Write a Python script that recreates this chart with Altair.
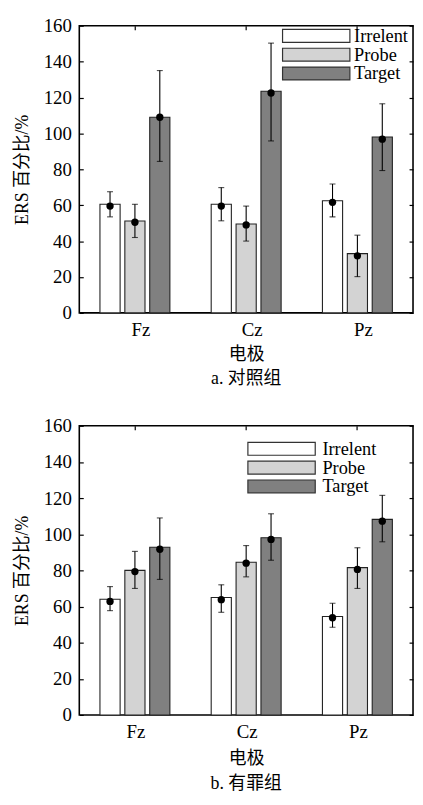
import altair as alt
import pandas as pd

electrodes = ["Fz", "Cz", "Pz"]
conditions = ["Irrelent", "Probe", "Target"]
fills = ["#ffffff", "#d3d3d3", "#808080"]
y_ticks = [0, 20, 40, 60, 80, 100, 120, 140, 160]

# a. 对照组 (control group)
a_bar = {"Irrelent": [60.5, 60.5, 62.5], "Probe": [51.2, 49.5, 33.0], "Target": [109.0, 123.5, 98.0]}
a_dot = {"Irrelent": [59.5, 59.5, 61.6], "Probe": [50.5, 49.0, 31.8], "Target": [109.0, 122.5, 96.8]}
a_hi = {"Irrelent": [67.5, 69.8, 71.8], "Probe": [60.5, 59.5, 43.3], "Target": [135.0, 150.3, 116.5]}
a_lo = {"Irrelent": [53.5, 51.3, 53.5], "Probe": [42.0, 40.0, 20.2], "Target": [84.4, 95.8, 79.3]}

# b. 有罪组 (guilty group)
b_bar = {"Irrelent": [64.0, 65.0, 54.5], "Probe": [80.0, 84.5, 81.5], "Target": [92.8, 98.0, 108.2]}
b_dot = {"Irrelent": [62.8, 63.8, 53.8], "Probe": [79.3, 84.0, 80.5], "Target": [91.7, 97.1, 107.2]}
b_hi = {"Irrelent": [71.0, 72.0, 61.8], "Probe": [90.5, 93.7, 92.5], "Target": [109.0, 111.3, 121.5]}
b_lo = {"Irrelent": [57.7, 56.8, 48.5], "Probe": [70.0, 76.4, 70.0], "Target": [75.0, 85.6, 95.8]}

FONT = "Liberation Serif, Noto Sans CJK SC"
LATIN = "Liberation Serif"
W = 337


def make_df(bar, dot, lo, hi):
    rows = []
    for c in conditions:
        for i, e in enumerate(electrodes):
            rows.append({"electrode": e, "condition": c, "bar": bar[c][i],
                         "dot": dot[c][i], "lo": lo[c][i], "hi": hi[c][i]})
    return pd.DataFrame(rows)


def panel(df, H, caption, leg_x, leg_y, label_offset, lab_pad, title_pad, cap_off, x_lab_off):
    yscale = alt.Scale(domain=[0, 160], nice=False, zero=True)
    xscale = alt.Scale(paddingInner=0, paddingOuter=0)
    xoff = alt.XOffset("condition:N", sort=conditions,
                       scale=alt.Scale(paddingInner=0.19, paddingOuter=0.83))
    base = alt.Chart(df)

    bars = base.mark_bar(stroke="#222222", strokeWidth=1.1).encode(
        x=alt.X("electrode:N", sort=electrodes, scale=xscale,
                axis=alt.Axis(title="电极", labelAngle=0, ticks=False, domain=False,
                              labelFont=LATIN, titleFont=FONT, labelOffset=x_lab_off,
                              labelFontSize=19, labelPadding=lab_pad, titleFontSize=18,
                              titlePadding=title_pad, titleFontWeight="normal",
                              labelColor="black", titleColor="black")),
        xOffset=xoff,
        y=alt.Y("bar:Q", scale=yscale,
                axis=alt.Axis(values=y_ticks, ticks=False, domain=False, grid=False,
                              labelFont=LATIN, titleFont=FONT,
                              title="ERS 百分比/%", labelFontSize=19, labelPadding=8,
                              titleFontSize=18, titlePadding=12, titleFontWeight="normal",
                              labelColor="black", titleColor="black")),
        color=alt.Color("condition:N", sort=conditions,
                        scale=alt.Scale(domain=conditions, range=fills),
                        legend=alt.Legend(title=None, orient="none", legendX=leg_x, legendY=leg_y,
                                          symbolType="M-1,-0.8125H7.5V0.8125H-1Z", symbolSize=256,
                                          symbolStrokeColor="#333333", symbolStrokeWidth=1.2,
                                          symbolOpacity=1, labelFontSize=18.5, labelFont=LATIN,
                                          labelColor="black",
                                          labelOffset=label_offset, rowPadding=0, padding=0)),
    )

    rules = base.mark_rule(color="black", strokeWidth=1.1).encode(
        x=alt.X("electrode:N", sort=electrodes, scale=xscale,
                axis=alt.Axis(title=None, labels=False, domain=False, orient="bottom",
                              offset=-H, tickSize=4, tickColor="black", tickWidth=1.2)),
        xOffset=xoff,
        y=alt.Y("lo:Q", scale=yscale,
                axis=alt.Axis(values=y_ticks, title=None, labels=False, domain=False, grid=False,
                              orient="right", offset=-W, tickSize=4, tickColor="black",
                              tickWidth=1.2)),
        y2="hi:Q",
    )

    caps_lo = base.mark_tick(color="black", size=6, thickness=1.1, orient="horizontal").encode(
        x=alt.X("electrode:N", sort=electrodes, scale=xscale, axis=None),
        xOffset=xoff,
        y=alt.Y("lo:Q", scale=yscale,
                axis=alt.Axis(values=y_ticks, title=None, labels=False, domain=False, grid=False,
                              orient="left", offset=-W, tickSize=4, tickColor="black",
                              tickWidth=1.2)),
    )
    caps_hi = base.mark_tick(color="black", size=6, thickness=1.1, orient="horizontal").encode(
        x=alt.X("electrode:N", sort=electrodes, scale=xscale, axis=None),
        xOffset=xoff,
        y=alt.Y("hi:Q", scale=yscale, axis=None),
    )
    dots = base.mark_circle(color="black", size=55, opacity=1).encode(
        x=alt.X("electrode:N", sort=electrodes, scale=xscale, axis=None),
        xOffset=xoff,
        y=alt.Y("dot:Q", scale=yscale, axis=None),
    )

    return alt.layer(bars, rules, caps_lo, caps_hi, dots).resolve_axis(
        x="independent", y="independent"
    ).properties(
        width=W, height=H,
        title=alt.TitleParams(caption, orient="bottom", fontSize=18, font=FONT,
                              fontWeight="normal", offset=cap_off, color="black"),
    )


top = panel(make_df(a_bar, a_dot, a_lo, a_hi), 290, "a. 对照组", 204, 1, 55, 8, 6, 7, 6)
bottom = panel(make_df(b_bar, b_dot, b_lo, b_hi), 292, "b. 有罪组", 169, 14, 58, 8, 8, 8, 1)

chart = alt.vconcat(top, bottom, spacing=27).resolve_scale(color="independent").properties(
    padding={"left": 4, "top": 4, "right": 0, "bottom": 0}
).configure(
    background="white",
    font=FONT,
    view=alt.ViewConfig(stroke="black", strokeWidth=1.6),
    axis=alt.AxisConfig(labelFont=LATIN),
)

chart.save("out.html", embed_options={"renderer": "svg", "actions": False})
